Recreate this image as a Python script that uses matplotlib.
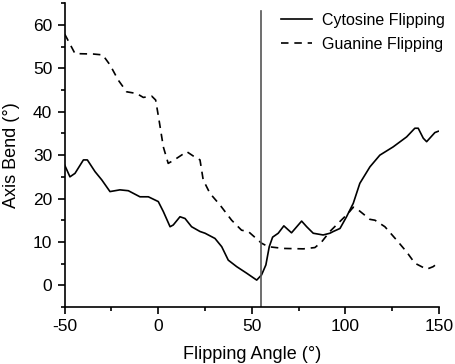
import matplotlib
matplotlib.use("Agg")
import matplotlib.pyplot as plt
from matplotlib.ticker import MultipleLocator

plt.rcParams['font.family'] = ['Liberation Sans', 'DejaVu Sans']
plt.rcParams['axes.unicode_minus'] = False

# Cytosine flipping (solid)
cyt_x = [-50, -47.2, -44.5, -40, -37.9, -33.8, -30.2, -25.8, -20.5, -16, -9.8, -5.3, 0, 2.7,
         6.3, 8, 11.6, 14.3, 17.8, 22.3, 25, 30.3, 33.9, 37.4, 41.9, 47.2, 52.6, 55.2, 57.5,
         59.3, 61.1, 64.1, 67.1, 71.2, 76.6, 79.3, 82.8, 88.1, 91.7, 93.5, 97.1, 100.6, 104.2,
         107.7, 113.1, 118.4, 125.5, 132.7, 137.1, 138.9, 141.6, 143.4, 147.8, 149.6]
cyt_y = [27.7, 25.0, 25.8, 28.9, 28.9, 26.2, 24.3, 21.6, 22.0, 21.8, 20.4, 20.4, 19.3, 17.0,
         13.5, 13.9, 15.8, 15.4, 13.5, 12.4, 12.0, 10.8, 8.9, 5.8, 4.3, 2.8, 1.2, 2.4, 4.7,
         8.9, 11.1, 12.0, 13.7, 12.1, 14.8, 13.5, 12.0, 11.6, 12.0, 12.4, 13.1, 15.8, 18.9,
         23.5, 27.3, 30.0, 31.9, 34.2, 36.2, 36.2, 33.9, 33.1, 35.2, 35.5]

# Guanine flipping (dashed)
gua_x = [-50, -44.5, -34.7, -29.7, -25.8, -21.4, -16.9, -11.5, -8, -3.5, -1.4, 0.4, 2.7, 5.3,
         8.9, 15.2, 18.7, 22.3, 24, 27.6, 33, 39.2, 44.5, 48.1, 55.2, 58.8, 66.8, 77.5, 83.7,
         87.3, 91.7, 101.5, 104.2, 106.8, 113.1, 115.8, 121.1, 127.4, 132.7, 137.1, 143.4,
         146.9, 149.6]
gua_y = [57.9, 53.4, 53.3, 53.1, 50.8, 47.3, 44.6, 44.2, 43.3, 43.6, 42.7, 38.1, 31.9, 28.1,
         29.0, 30.8, 29.8, 28.9, 24.3, 21.2, 18.5, 15.0, 12.7, 12.4, 9.7, 8.9, 8.5, 8.4, 8.7,
         10.0, 12.4, 16.6, 18.0, 17.4, 15.2, 15.0, 13.5, 10.4, 7.7, 5.1, 3.7, 4.3, 5.2]

vline_x = 55
x_ticks = [-50, 0, 50, 100, 150]
y_ticks = [0, 10, 20, 30, 40, 50, 60]

fig = plt.figure(figsize=(4.55, 3.64), dpi=100)
ax = fig.add_axes([0.1422, 0.1566, 0.8226, 0.8344])

ax.plot(cyt_x, cyt_y, color='black', lw=1.2, label='Cytosine Flipping')
ax.plot(gua_x, gua_y, color='black', lw=1.2, ls=(0, (4.5, 3.5)), label='Guanine Flipping')
ax.plot([vline_x, vline_x], [-5, 63.3], color='#555555', lw=1.2)

ax.set_xlim(-50, 150)
ax.set_ylim(-5, 65)
ax.set_xticks(x_ticks)
ax.set_yticks(y_ticks)
ax.xaxis.set_minor_locator(MultipleLocator(25))
ax.yaxis.set_minor_locator(MultipleLocator(5))
ax.tick_params(which='major', direction='out', length=5, width=1.2, labelsize=12.5, pad=4)
ax.tick_params(which='minor', direction='out', length=3, width=1.2)
for s in ['top', 'right']:
    ax.spines[s].set_visible(False)
for s in ['left', 'bottom']:
    ax.spines[s].set_linewidth(1.2)

ax.set_xlabel('Flipping Angle (°)', fontsize=13, labelpad=8)
ax.set_ylabel('Axis Bend (°)', fontsize=13, labelpad=9)

ax.legend(loc='upper right', frameon=False, fontsize=11.5, handlelength=1.95,
          handletextpad=0.62, borderaxespad=0, labelspacing=0.55,
          bbox_to_anchor=(0.991, 0.982), bbox_transform=fig.transFigure)

fig.savefig('out.png', dpi=100)
